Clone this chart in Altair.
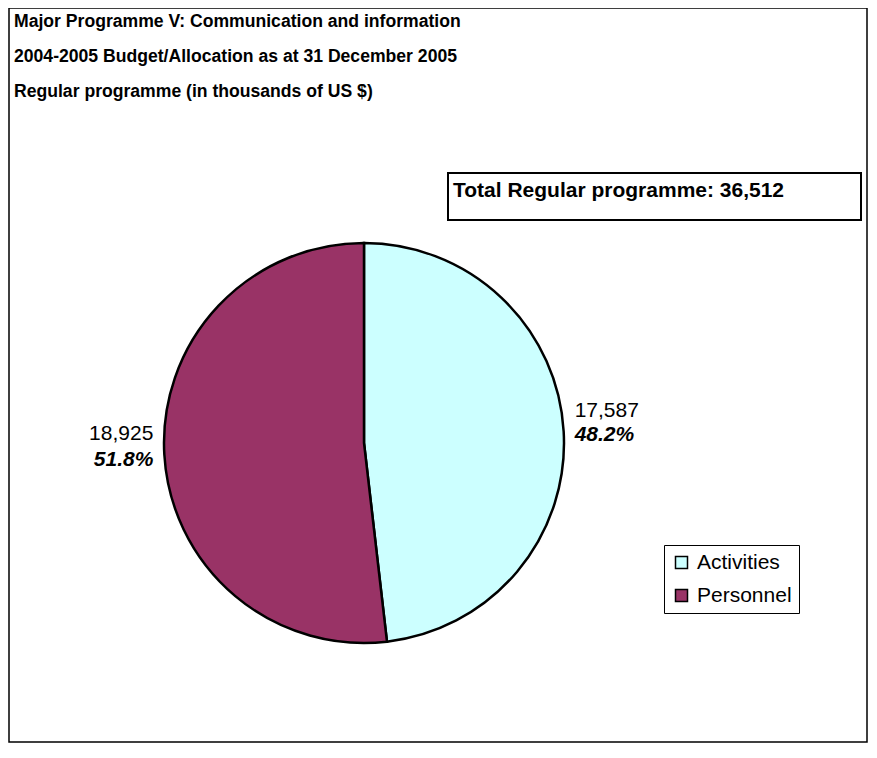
import altair as alt
import pandas as pd

# ---- data ----
categories = ["Activities", "Personnel"]
values = [17587, 18925]
colors = ["#CCFFFF", "#993366"]
title_lines = [
    "Major Programme V: Communication and information",
    "2004-2005 Budget/Allocation as at 31 December 2005",
    "Regular programme (in thousands of US $)",
]
total_prefix = "Total Regular programme: "

df = pd.DataFrame({"category": categories, "value": values,
                   "idx": list(range(len(categories)))})
total = sum(values)

W, H = 858, 734
CX, CY, R = 355, 435, 200
LR = 211
FONT = "Liberation Sans"

base = alt.Chart(df).transform_joinaggregate(
    total="sum(value)"
).transform_calculate(pct="datum.value / datum.total")

theta = alt.Theta("value:Q", stack=True)
order = alt.Order("idx:Q")

pie = base.mark_arc(outerRadius=R, stroke="black", strokeWidth=2.5).encode(
    theta=theta,
    order=order,
    color=alt.Color(
        "category:N",
        scale=alt.Scale(domain=categories, range=colors),
        legend=alt.Legend(
            title=None, orient="none", legendX=655, legendY=537,
            direction="vertical", symbolType="square", symbolSize=144,
            symbolStrokeColor="black", symbolStrokeWidth=1.5,
            labelFontSize=21, labelFont=FONT, labelColor="black",
            labelOffset=5, rowPadding=11, padding=7,
            strokeColor="black", fillColor="white",
        ),
    ),
    x=alt.value(CX),
    y=alt.value(CY),
)


def label(cat, expr, align, dy, bold):
    kw = dict(fontWeight="bold", fontStyle="italic") if bold else {}
    return base.transform_calculate(
        lbl=f"datum.category == '{cat}' ? {expr} : ''"
    ).mark_text(radius=LR, align=align, baseline="middle", dy=dy,
                fontSize=21, font=FONT, color="black", **kw).encode(
        theta=theta, order=order, x=alt.value(CX), y=alt.value(CY),
        text="lbl:N",
    )


num_expr = "format(datum.value, ',')"
pct_expr = "format(datum.pct, '.1%')"
labels = [
    label("Activities", num_expr, "left", -20, False),
    label("Activities", pct_expr, "left", 4, True),
    label("Personnel", num_expr, "right", -21, False),
    label("Personnel", pct_expr, "right", 5, True),
]

title_df = pd.DataFrame({"t": ["\n".join(title_lines)]})
title = alt.Chart(title_df).mark_text(
    lineBreak="\n", lineHeight=35, align="left", baseline="alphabetic",
    font=FONT, fontWeight="bold", fontSize=17.6, color="black",
).encode(x=alt.value(5), y=alt.value(19), text="t:N")

total_df = pd.DataFrame({"t": [f"{total_prefix}{total:,}"]})
total_box = alt.Chart(total_df).mark_rect(
    fill="white", stroke="black", strokeWidth=2
).encode(x=alt.value(439), x2=alt.value(852), y=alt.value(165), y2=alt.value(212))
total_text = alt.Chart(total_df).mark_text(
    align="left", baseline="alphabetic", font=FONT, fontWeight="bold",
    fontSize=21, color="black",
).encode(x=alt.value(444), y=alt.value(189), text="t:N")

chart = alt.layer(pie, *labels, title, total_box, total_text).properties(
    width=W, height=H, autosize=alt.AutoSizeParams(type="none"),
    padding={"left": 1, "top": 0, "right": 1, "bottom": 1},
).configure(
    font=FONT, background="white",
).configure_view(stroke="black", strokeWidth=1.5)

chart.save("out.html", embed_options={"renderer": "svg", "actions": False})
